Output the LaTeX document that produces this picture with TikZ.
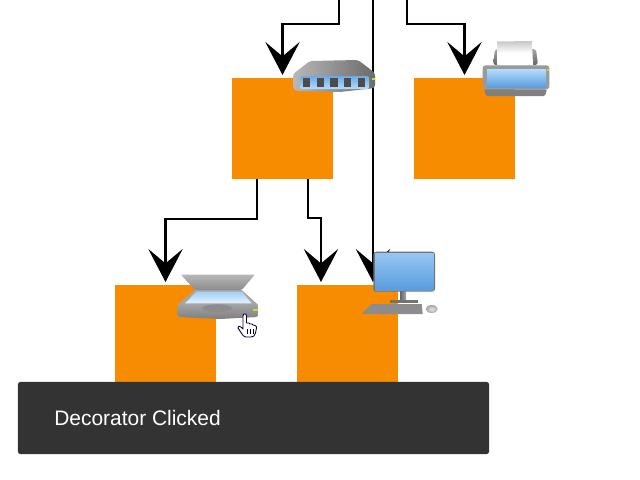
\documentclass[tikz,border=0pt]{standalone}
\usepackage{fontspec}
\setmainfont{Liberation Sans}
\usetikzlibrary{arrows.meta}
\definecolor{boxorange}{HTML}{F88C00}
\definecolor{toastgray}{HTML}{333333}
\definecolor{metal}{HTML}{9A9A9A}
\definecolor{skyblue}{HTML}{B4DCFC}
\definecolor{deepblue}{HTML}{5A9CDE}
\definecolor{led}{HTML}{B5E61D}
\tikzset{
	box/.style={fill=boxorange, minimum size=2.525cm, inner sep=0pt, outer sep=0pt},
	link/.style={draw=black, line width=0.07cm, shorten >=0.075cm,
		-{Stealth[length=0.825cm, width=0.86cm, inset=0.36cm]}},
	toast/.style={fill=toastgray, rounded corners=0.06cm, minimum width=11.775cm, minimum height=1.8cm, inner sep=0pt, outer sep=0pt},
	toasttext/.style={text=white, font=\fontsize{14.9}{17}\selectfont, inner sep=0pt, anchor=west}
}
\begin{document}
\begin{tikzpicture}[x=0.025cm, y=-0.025cm]
	\useasboundingbox (0,0) rectangle (640,480);

	% Nodes
	\node[box] (router) at (282.5,128.5) {};
	\node[box] (printer) at (464.5,128.5) {};
	\node[box] (scanner) at (165.5,335.5) {};
	\node[box] (pc) at (347.5,335.5) {};
	\coordinate (ina) at (339,0);
	\coordinate (inb) at (373,0);
	\coordinate (inc) at (407,0);
	\coordinate (outa) at (257,179);
	\coordinate (outb) at (308,179);
	\coordinate (benda) at (282.5,24);
	\coordinate (bendc) at (464.5,24);
	\coordinate (bendd) at (165.5,219);
	\coordinate (bende) at (321,218);
	\coordinate (ine) at (321,285);
	\coordinate (inf) at (373,285);

	% Edges
	\draw[link] (ina) |- (benda) -- (router.north);
	\draw[link] (inc) |- (bendc) -- (printer.north);
	\draw[link] (inb) -- (inf);
	\draw[link] (outa) |- (bendd) -- (scanner.north);
	\draw[link] (outb) |- (bende) -- (ine);

	% Router
	\shade[left color=black!28, right color=black!58, rounded corners=2pt] (293,74) -- (310,61) -- (358,60) -- (375,73) -- (375,88) -- (340,92) -- (296,91) -- (293,88) -- cycle;
	\shade[top color=deepblue!80!skyblue, bottom color=skyblue, rounded corners=1pt] (300,76) rectangle (369,89);
	\foreach \x in {306.7,320.3,334,347.7,361.3}
		\fill[black!70] (\x-3.7,78.3) rectangle (\x+3.7,87);
	\fill[led] (372,78) rectangle (375,79.5);

	% Printer
	\shade[top color=black!35, bottom color=black!60, rounded corners=2pt] (493,65) -- (495,49) -- (536,49) -- (538,65) -- cycle;
	\shade[top color=black!22, bottom color=white, middle color=white] (497,41.5) -- (532,41) -- (533,65) -- (497,65) -- cycle;
	\fill[metal, rounded corners=2pt] (482.7,65.3) rectangle (549.3,89.3);
	\shade[top color=skyblue, bottom color=deepblue] (487,69) rectangle (546,87.7);
	\fill[led] (547,69) rectangle (549,71);
	\fill[black!50, rounded corners=1pt] (484,89.3) -- (547,89.3) -- (545,96) -- (486,96) -- cycle;

	% Scanner
	\shade[top color=black!28, bottom color=black!45, rounded corners=1pt] (180.7,274.5) -- (255,274.5) -- (241.7,290) -- (195,290) -- cycle;
	\fill[black!35] (195,290) -- (241.7,290) -- (258.3,305) -- (177.3,305) -- cycle;
	\shade[top color=skyblue!80!deepblue, bottom color=white!60!skyblue] (196.7,291.5) -- (241.7,291.5) -- (251.7,303.3) -- (185,303.3) -- cycle;
	\shade[top color=metal!90!white, bottom color=black!50, rounded corners=2pt] (177.3,304) -- (258.3,304) -- (258.3,317) -- (220,319) -- (177.3,317) -- cycle;
	\fill[black!45] (217.3,308.3) ellipse (15 and 4);
	\fill[led] (253.3,308.7) rectangle (258.3,311);

	% Computer
	\shade[left color=black!60, right color=black!35] (400,291) rectangle (406,300);
	\fill[black!55] (390,300) rectangle (418,302.7);
	\fill[black!45] (371.7,304) -- (421.7,304) -- (422.7,314) -- (361.7,314) -- cycle;
	\fill[black!55, rounded corners=2pt] (373.3,251.7) rectangle (435,291.7);
	\shade[top color=skyblue!65!deepblue, bottom color=deepblue] (375,253.5) rectangle (433.5,290);
	\shade[inner color=white!90!black, outer color=black!35] (431.7,309) ellipse (6 and 4);

	% Cursor
	\draw[fill=white, draw=black!80!blue, line width=0.6pt, line join=round] (243,316) .. controls (243,313) and (246.5,313) .. (246.5,316) -- (246.5,323) -- (249,323) -- (250,324) -- (252,324) -- (253,325) -- (255,325.5) .. controls (256.5,326) and (256.5,327) .. (256.5,328) -- (255.5,333) .. controls (255,336) and (253,337) .. (251,337) -- (246,337) .. controls (243.5,337) and (243,335) .. (242,334) -- (238,328) .. controls (237.5,326) and (239.5,325.5) .. (241,327) -- (243,329) -- cycle;
	\draw[draw=black!80!blue, line width=0.5pt] (247,329) -- (247,334) (250,329) -- (250,334) (253,329) -- (253,334);

	% Toast
	\node[toast] (msg) at (253.5,418) {};
	\node[toasttext] (msgtext) at (54,418) {Decorator Clicked};
\end{tikzpicture}
\end{document}
